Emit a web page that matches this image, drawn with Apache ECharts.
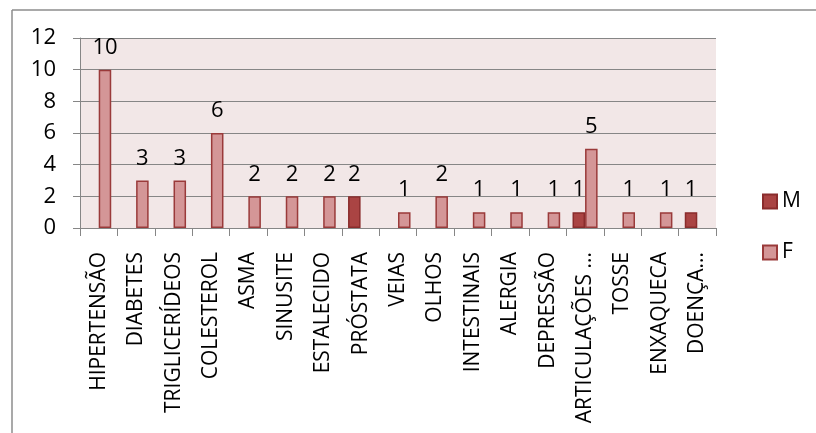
<!DOCTYPE html>
<html><head><meta charset="utf-8">
<script src="https://cdn.jsdelivr.net/npm/echarts@6/dist/echarts.min.js"></script>
<style>html,body{margin:0;padding:0;background:#fff}#c{width:816px;height:433px}</style>
</head><body><div id="c"></div>
<script>
const categories = ['HIPERTENSÃO','DIABETES','TRIGLICERÍDEOS','COLESTEROL','ASMA','SINUSITE','ESTALECIDO','PRÓSTATA','VEIAS','OLHOS','INTESTINAIS','ALERGIA','DEPRESSÃO','ARTICULAÇÕES ...','TOSSE','ENXAQUECA','DOENÇA...'];
const valuesM = [null,null,null,null,null,null,null,2,null,null,null,null,null,1,null,null,1];
const valuesF = [10,3,3,6,2,2,2,null,1,2,1,1,1,5,1,1,null];
const yTicks = {min:0, max:12, interval:2};

const FONT = 'Open Sans';
const chart = echarts.init(document.getElementById('c'));
const lbl = {show:true, position:'top', distance:11, color:'#000', fontFamily:FONT, fontSize:22};
chart.setOption({
  animation:false,
  backgroundColor:'#fff',
  textStyle:{fontFamily:FONT},
  graphic:[
    {type:'line', shape:{x1:12,y1:10,x2:816,y2:10}, style:{stroke:'#8c8c8c', lineWidth:1.5}},
    {type:'line', shape:{x1:12,y1:10,x2:12,y2:433}, style:{stroke:'#8c8c8c', lineWidth:1.5}}
  ],
  grid:{left:80, right:100, top:38, bottom:205, show:true, backgroundColor:'#F2E7E7', borderWidth:0},
  legend:{orient:'vertical', left:757, top:186, itemWidth:14, itemHeight:14, itemGap:30,
    icon:'rect', textStyle:{fontFamily:FONT, fontSize:21, color:'#000'}, data:['M','F']},
  xAxis:{type:'category', data:categories,
    axisLine:{lineStyle:{color:'#868686', width:1}},
    axisTick:{show:true, length:8, interval:0, lineStyle:{color:'#868686'}},
    axisLabel:{rotate:90, interval:0, margin:24, color:'#000', fontFamily:FONT, fontSize:21}},
  yAxis:{type:'value', min:yTicks.min, max:yTicks.max, interval:yTicks.interval,
    axisLine:{show:true, lineStyle:{color:'#868686', width:1}},
    axisTick:{show:true, length:7, lineStyle:{color:'#868686'}},
    splitLine:{lineStyle:{color:'#868686', width:1}},
    axisLabel:{margin:24, color:'#000', fontFamily:FONT, fontSize:22}},
  series:[
    {name:'M', type:'bar', data:valuesM, barGap:'0%', barCategoryGap:'33%',
      itemStyle:{color:'#AA4443', borderColor:'#8A2C2C', borderWidth:1.5}, label:lbl},
    {name:'F', type:'bar', data:valuesF, barGap:'0%', barCategoryGap:'33%',
      itemStyle:{color:'#D49697', borderColor:'#9A3A3A', borderWidth:1.5}, label:lbl}
  ]
});
</script></body></html>
